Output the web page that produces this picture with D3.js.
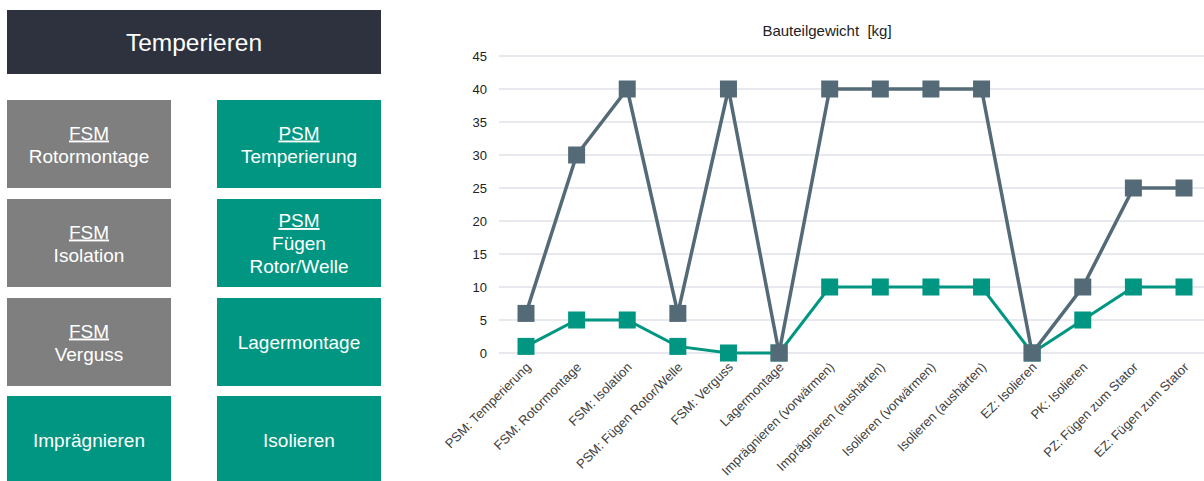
<!DOCTYPE html>
<html>
<head>
<meta charset="utf-8">
<script src="https://cdn.jsdelivr.net/npm/d3@7"></script>
<style>
  body { margin: 0; background: #fff; }
  svg { display: block; }
  svg text { font-family: "Liberation Sans", Arial, sans-serif; }
</style>
</head>
<body>
<script>
// process steps on x axis
var categories = [
  "PSM: Temperierung", "FSM: Rotormontage", "FSM: Isolation", "PSM: Fügen Rotor/Welle",
  "FSM: Verguss", "Lagermontage", "Imprägnieren (vorwärmen)", "Imprägnieren (aushärten)",
  "Isolieren (vorwärmen)", "Isolieren (aushärten)", "EZ: Isolieren", "PK: Isolieren",
  "PZ: Fügen zum Stator", "EZ: Fügen zum Stator"
];
var maxWeight = [6, 30, 40, 6, 40, 0, 40, 40, 40, 40, 0, 10, 25, 25];
var minWeight = [1, 5, 5, 1, 0, 0, 10, 10, 10, 10, 0, 5, 10, 10];
var yTicks = [0, 5, 10, 15, 20, 25, 30, 35, 40, 45];

// left side tiles: [header, sub lines, column, row, colour]
var tiles = [
  ["FSM", ["Rotormontage"], 0, 0, "grey"],
  ["PSM", ["Temperierung"], 1, 0, "teal"],
  ["FSM", ["Isolation"], 0, 1, "grey"],
  ["PSM", ["Fügen", "Rotor/Welle"], 1, 1, "teal"],
  ["FSM", ["Verguss"], 0, 2, "grey"],
  ["", ["Lagermontage"], 1, 2, "teal"],
  ["", ["Imprägnieren"], 0, 3, "teal"],
  ["", ["Isolieren"], 1, 3, "teal"]
];

var colors = { grey: "#7f7f7f", teal: "#009682", dark: "#546a77" };

var svg = d3.select("body").append("svg")
  .attr("width", 1204)
  .attr("height", 481);

// ---- left panel ----
svg.append("rect")
  .attr("x", 7).attr("y", 10).attr("width", 374).attr("height", 64)
  .attr("fill", "#2d323e");
svg.append("text")
  .attr("x", 194).attr("y", 51)
  .attr("text-anchor", "middle")
  .attr("fill", "#fff")
  .style("font-size", "24.5px")
  .text("Temperieren");

var colX = [7, 217];
var rowY = [100, 199, 298, 396];
var tileW = 164, tileH = 88;

var tile = svg.selectAll(".tile")
  .data(tiles)
  .enter().append("g")
  .attr("class", "tile")
  .attr("transform", function(d) { return "translate(" + colX[d[2]] + "," + rowY[d[3]] + ")"; });

tile.append("rect")
  .attr("width", tileW)
  .attr("height", function(d) { return d[3] == 3 ? 90 : tileH; })
  .attr("fill", function(d) { return colors[d[4]]; });

tile.each(function(d) {
  var g = d3.select(this);
  var lines = (d[0] ? [d[0]] : []).concat(d[1]);
  var lh = 23;
  var top = tileH / 2 - (lines.length - 1) * lh / 2 + 7;
  lines.forEach(function(l, i) {
    g.append("text")
      .attr("x", tileW / 2)
      .attr("y", top + i * lh)
      .attr("text-anchor", "middle")
      .attr("fill", "#fff")
      .style("font-size", "19px")
      .style("text-decoration", (d[0] && i == 0) ? "underline" : null)
      .text(l);
  });
});

// ---- chart ----
var x = d3.scalePoint()
  .domain(categories)
  .range([526, 1184]);

var y = d3.scaleLinear()
  .domain([0, 45])
  .range([353, 56]);

svg.append("text")
  .attr("x", 827).attr("y", 36)
  .attr("text-anchor", "middle")
  .attr("fill", "#222")
  .style("font-size", "15px")
  .style("white-space", "pre")
  .text("Bauteilgewicht  [kg]");

var grid = svg.append("g");
grid.selectAll("line")
  .data(yTicks)
  .enter().append("line")
  .attr("x1", 499).attr("x2", 1204)
  .attr("y1", function(d) { return y(d); })
  .attr("y2", function(d) { return y(d); })
  .attr("stroke", "#dfe2e8")
  .attr("stroke-width", 1.5);

var yaxis = svg.append("g")
  .attr("transform", "translate(499,0)")
  .call(d3.axisLeft(y).tickValues(yTicks).tickSize(0).tickPadding(12));
yaxis.select(".domain").remove();
yaxis.selectAll("text")
  .attr("fill", "#222")
  .style("font-size", "13px")
  .style("font-family", "Liberation Sans, Arial, sans-serif");

var xaxis = svg.append("g")
  .attr("transform", "translate(0,356)")
  .call(d3.axisBottom(x).tickSize(0).tickPadding(0));
xaxis.select(".domain").remove();
xaxis.selectAll("text")
  .attr("fill", "#404040")
  .style("font-size", "13px")
  .style("font-family", "Liberation Sans, Arial, sans-serif")
  .attr("text-anchor", "end")
  .attr("dy", "0")
  .attr("transform", "translate(5,12) rotate(-45)");

function drawSeries(values, color, width) {
  var line = d3.line()
    .x(function(d, i) { return x(categories[i]); })
    .y(function(d) { return y(d); });
  var g = svg.append("g");
  g.append("path")
    .datum(values)
    .attr("d", line)
    .attr("fill", "none")
    .attr("stroke", color)
    .attr("stroke-width", width);
  g.selectAll("rect")
    .data(values)
    .enter().append("rect")
    .attr("x", function(d, i) { return x(categories[i]) - 8.5; })
    .attr("y", function(d) { return y(d) - 8.5; })
    .attr("width", 17)
    .attr("height", 17)
    .attr("fill", color);
}

drawSeries(minWeight, colors.teal, 3);
drawSeries(maxWeight, colors.dark, 3.5);
</script>
</body>
</html>
